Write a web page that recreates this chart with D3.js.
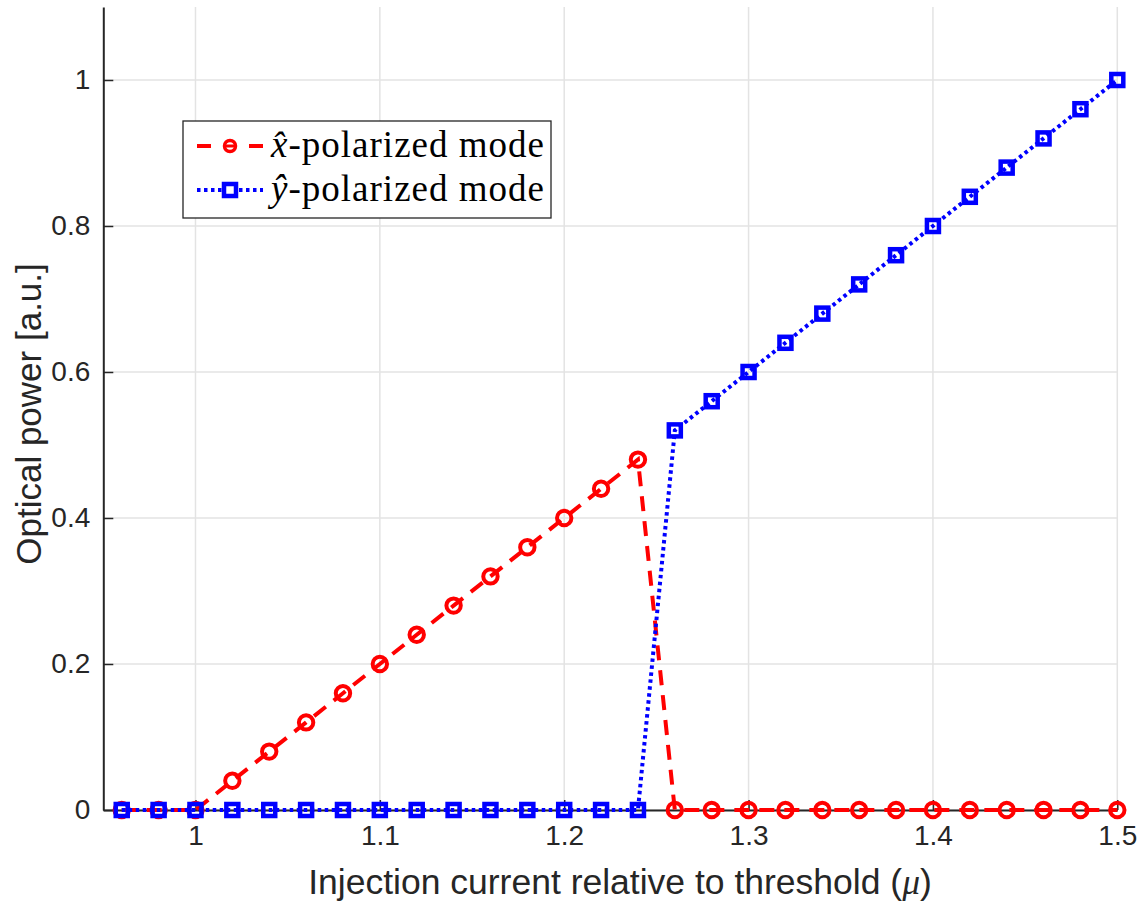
<!DOCTYPE html>
<html>
<head>
<meta charset="utf-8">
<script src="https://cdn.jsdelivr.net/npm/d3@7"></script>
<style>
  html, body { margin: 0; padding: 0; background: #fff; }
  svg { display: block; }
</style>
</head>
<body>
<svg id="chart" width="1143" height="901"></svg>
<script>
// ---- data ----
const xValues = [0.96,0.98,1.00,1.02,1.04,1.06,1.08,1.10,1.12,1.14,1.16,1.18,1.20,1.22,1.24,1.26,1.28,1.30,1.32,1.34,1.36,1.38,1.40,1.42,1.44,1.46,1.48,1.50];
const xPolarized = [0,0,0,0.04,0.08,0.12,0.16,0.20,0.24,0.28,0.32,0.36,0.40,0.44,0.48,0,0,0,0,0,0,0,0,0,0,0,0,0];
const yPolarized = [0,0,0,0,0,0,0,0,0,0,0,0,0,0,0,0.52,0.56,0.60,0.64,0.68,0.72,0.76,0.80,0.84,0.88,0.92,0.96,1.00];
const xTicks = [1, 1.1, 1.2, 1.3, 1.4, 1.5];
const xTickLabels = ["1", "1.1", "1.2", "1.3", "1.4", "1.5"];
const yTicks = [0, 0.2, 0.4, 0.6, 0.8, 1];
const yTickLabels = ["0", "0.2", "0.4", "0.6", "0.8", "1"];
const seriesNames = ["-polarized mode", "-polarized mode"];
const seriesSymbols = ["x\u0302", "y\u0302"];

// ---- layout ----
const svg = d3.select("#chart");
const L = 103.3, R = 1117.3, T = 7, B = 810;
const x = d3.scaleLinear().domain([0.95, 1.5]).range([L, R]);
const y = d3.scaleLinear().domain([0, 1.1]).range([B, T]);
const axisColor = "#262626";
const gridColor = "#e3e3e3";
const sans = "'Liberation Sans', Arial, Helvetica, sans-serif";
const serif = "'Liberation Serif', 'Times New Roman', serif";

// grid
const grid = svg.append("g");
grid.selectAll("line.gx").data(xTicks).enter().append("line")
  .attr("x1", d => x(d)).attr("x2", d => x(d)).attr("y1", T).attr("y2", B)
  .attr("stroke", gridColor).attr("stroke-width", 1.5);
grid.selectAll("line.gy").data(yTicks).enter().append("line")
  .attr("y1", d => y(d)).attr("y2", d => y(d)).attr("x1", L).attr("x2", R)
  .attr("stroke", gridColor).attr("stroke-width", 1.5);

// axes
const xAxis = d3.axisBottom(x).tickValues(xTicks).tickFormat((d, i) => xTickLabels[i])
  .tickSizeInner(-10).tickSizeOuter(0).tickPadding(15);
const yAxis = d3.axisLeft(y).tickValues(yTicks).tickFormat((d, i) => yTickLabels[i])
  .tickSizeInner(-10).tickSizeOuter(0).tickPadding(13);

const gx = svg.append("g").attr("transform", `translate(0,${B})`).call(xAxis);
const gy = svg.append("g").attr("transform", `translate(${L},0)`).call(yAxis);
[gx, gy].forEach(g => {
  g.select(".domain").attr("stroke", axisColor).attr("stroke-width", 2);
  g.selectAll(".tick line").attr("stroke", axisColor).attr("stroke-width", 1.5);
  g.selectAll(".tick text").attr("fill", axisColor)
    .attr("font-family", sans).attr("font-size", 28);
});
gx.selectAll(".tick text").attr("dy", "0.71em");

// axis labels
svg.append("text")
  .attr("x", 620).attr("y", 894)
  .attr("text-anchor", "middle")
  .attr("fill", axisColor)
  .attr("font-family", sans).attr("font-size", 35.5)
  .call(t => {
    t.append("tspan").text("Injection current relative to threshold (");
    t.append("tspan").attr("font-family", serif).attr("font-style", "italic").text("μ");
    t.append("tspan").text(")");
  });
svg.append("text")
  .attr("transform", `translate(41,414) rotate(-90)`)
  .attr("text-anchor", "middle")
  .attr("fill", axisColor)
  .attr("font-family", sans).attr("font-size", 35)
  .text("Optical power [a.u.]");

// series
const redData = xValues.map((v, i) => [v, xPolarized[i]]);
const blueData = xValues.map((v, i) => [v, yPolarized[i]]);
const line = d3.line().x(d => x(d[0])).y(d => y(d[1]));

const red = "#ff0000", blue = "#0000ff";
svg.append("path").datum(redData).attr("d", line)
  .attr("fill", "none").attr("stroke", red).attr("stroke-width", 4)
  .attr("stroke-dasharray", "15,10");
svg.append("g").selectAll("circle").data(redData).enter().append("circle")
  .attr("cx", d => x(d[0])).attr("cy", d => y(d[1])).attr("r", 7.2)
  .attr("fill", "none").attr("stroke", red).attr("stroke-width", 4);

svg.append("path").datum(blueData).attr("d", line)
  .attr("fill", "none").attr("stroke", blue).attr("stroke-width", 4)
  .attr("stroke-dasharray", "3.5,3.5");
svg.append("g").selectAll("rect").data(blueData).enter().append("rect")
  .attr("x", d => x(d[0]) - 6).attr("y", d => y(d[1]) - 6)
  .attr("width", 12).attr("height", 12)
  .attr("fill", "none").attr("stroke", blue).attr("stroke-width", 4.5);

// legend
const lg = svg.append("g");
lg.append("rect").attr("x", 183).attr("y", 121).attr("width", 368).attr("height", 97)
  .attr("fill", "#fff").attr("stroke", "#262626").attr("stroke-width", 1.3);
const rows = [
  {y: 146, color: red},
  {y: 190, color: blue}
];
rows.forEach((r, i) => {
  if (i === 0) {
    lg.append("line").attr("x1", 197).attr("x2", 211).attr("y1", r.y).attr("y2", r.y)
      .attr("stroke", r.color).attr("stroke-width", 4);
    lg.append("line").attr("x1", 249).attr("x2", 263).attr("y1", r.y).attr("y2", r.y)
      .attr("stroke", r.color).attr("stroke-width", 4);
    lg.append("line").attr("x1", 225).attr("x2", 235).attr("y1", r.y).attr("y2", r.y)
      .attr("stroke", r.color).attr("stroke-width", 3);
    lg.append("circle").attr("cx", 230).attr("cy", r.y).attr("r", 5.5)
      .attr("fill", "none").attr("stroke", r.color).attr("stroke-width", 3.5);
  } else {
    lg.append("line").attr("x1", 197).attr("x2", 263).attr("y1", r.y).attr("y2", r.y)
      .attr("stroke", r.color).attr("stroke-width", 4).attr("stroke-dasharray", "3.5,3.5");
    lg.append("rect").attr("x", 224).attr("y", r.y - 6).attr("width", 12).attr("height", 12)
      .attr("fill", "#fff").attr("stroke", r.color).attr("stroke-width", 4.5);
  }
  const t = lg.append("text").attr("x", 271).attr("y", r.y + 11)
    .attr("font-family", serif).attr("font-size", 37)
    .attr("fill", "#000")
    .attr("textLength", 273).attr("lengthAdjust", "spacing");
  t.append("tspan").attr("font-style", "italic").text(seriesSymbols[i]);
  t.append("tspan").text(seriesNames[i]);
});
</script>
</body>
</html>
